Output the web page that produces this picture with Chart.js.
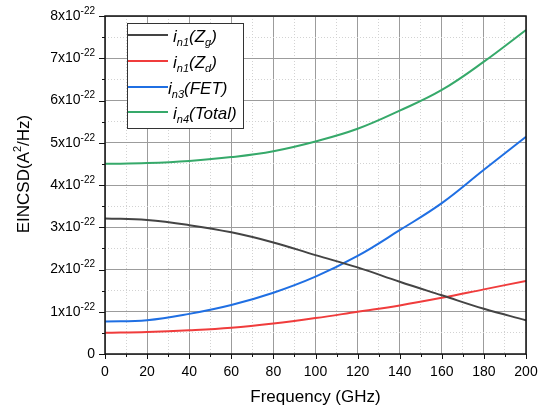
<!DOCTYPE html>
<html>
<head>
<meta charset="utf-8">
<script src="https://cdn.jsdelivr.net/npm/chart.js@4/dist/chart.umd.min.js"></script>
<style>
  body { margin: 0; background: #fff; }
</style>
</head>
<body>
<canvas id="myChart" width="549" height="406"></canvas>
<script>
// frequency in GHz, noise values in units of 1e-22 A^2/Hz
const freq = [0, 20, 40, 60, 80, 100, 120, 140, 160, 180, 200];
const inZg = [3.21, 3.17, 3.05, 2.88, 2.64, 2.34, 2.05, 1.71, 1.39, 1.07, 0.80];
const inZd = [0.50, 0.52, 0.56, 0.62, 0.72, 0.85, 1.00, 1.15, 1.33, 1.53, 1.73];
const inFET = [0.77, 0.80, 0.95, 1.16, 1.45, 1.83, 2.32, 2.93, 3.57, 4.36, 5.14];
const inTotal = [4.50, 4.52, 4.57, 4.66, 4.80, 5.03, 5.33, 5.76, 6.25, 6.92, 7.67];

const xTicks = [0, 20, 40, 60, 80, 100, 120, 140, 160, 180, 200];
const yTicks = [0, 1, 2, 3, 4, 5, 6, 7, 8];

// legend entries: [main, sub, rest, sub2, end]
const legendItems = [
  ['i', 'n1', '(Z', 'g', ')'],
  ['i', 'n1', '(Z', 'd', ')'],
  ['i', 'n3', '(FET)', '', ''],
  ['i', 'n4', '(Total)', '', '']
];
const colors = ['#444444', '#f03c3c', '#1f6fe3', '#36a96a'];

function pts(ys) {
  return freq.map((f, i) => ({ x: f, y: ys[i] }));
}

function ds(label, ys, color) {
  return {
    label: label,
    data: pts(ys),
    borderColor: color,
    backgroundColor: color,
    borderWidth: 2,
    pointRadius: 0,
    tension: 0.4
  };
}

const isMajorX = v => v % 20 === 0;
const isMajorY = v => Math.abs(v - Math.round(v)) < 1e-6;
const FONT = '"Liberation Sans", Arial, sans-serif';

const decor = {
  id: 'decor',
  afterDraw(chart) {
    const ctx = chart.ctx;
    const a = chart.chartArea;
    const xs = chart.scales.x, ys = chart.scales.y;
    ctx.save();

    // frame
    ctx.strokeStyle = '#111';
    ctx.lineWidth = 1.5;
    ctx.strokeRect(a.left, a.top, a.right - a.left, a.bottom - a.top);

    // tick marks
    ctx.lineWidth = 1;
    ctx.beginPath();
    for (let v = 0; v <= 200; v += 10) {
      const px = Math.round(xs.getPixelForValue(v)) + 0.5;
      ctx.moveTo(px, a.bottom);
      ctx.lineTo(px, a.bottom + (isMajorX(v) ? 5 : 3));
    }
    for (let v = 0; v <= 8; v += 0.5) {
      const py = Math.round(ys.getPixelForValue(v)) + 0.5;
      ctx.moveTo(a.left, py);
      ctx.lineTo(a.left - (isMajorY(v) ? 6 : 3), py);
    }
    ctx.stroke();

    // x tick labels
    ctx.fillStyle = '#000';
    ctx.font = '14px ' + FONT;
    ctx.textAlign = 'center';
    ctx.textBaseline = 'middle';
    xTicks.forEach(v => {
      ctx.fillText(String(v), xs.getPixelForValue(v), a.bottom + 18);
    });

    // y tick labels with superscript
    yTicks.forEach(v => {
      const py = ys.getPixelForValue(v);
      const right = a.left - 10;
      ctx.textBaseline = 'middle';
      ctx.textAlign = 'right';
      if (v === 0) {
        ctx.font = '14px ' + FONT;
        ctx.fillText('0', right, py);
        return;
      }
      ctx.font = '10px ' + FONT;
      const sup = '-22';
      const sw = ctx.measureText(sup).width;
      ctx.fillText(sup, right, py - 5);
      ctx.font = '14px ' + FONT;
      ctx.fillText(v + 'x10', right - sw, py);
    });

    // x title
    ctx.font = '17px ' + FONT;
    ctx.textAlign = 'center';
    ctx.fillText('Frequency (GHz)', (a.left + a.right) / 2, 397);

    // y title, rotated, with superscript 2
    ctx.save();
    ctx.translate(24, 174);
    ctx.rotate(-Math.PI / 2);
    const big = '17px ' + FONT;
    const small = '11px ' + FONT;
    ctx.font = big;
    const p1 = 'EINCSD(A', p3 = '/Hz)';
    const w1 = ctx.measureText(p1).width, w3 = ctx.measureText(p3).width;
    ctx.font = small;
    const w2 = ctx.measureText('2').width;
    let x0 = -(w1 + w2 + w3) / 2;
    ctx.textAlign = 'left';
    ctx.font = big;
    ctx.fillText(p1, x0, 0);
    ctx.font = small;
    ctx.fillText('2', x0 + w1, -6);
    ctx.font = big;
    ctx.fillText(p3, x0 + w1 + w2, 0);
    ctx.restore();

    // legend
    const bx = 127, by = 23, bw = 116, bh = 105;
    ctx.fillStyle = '#fff';
    ctx.fillRect(bx, by, bw, bh);
    ctx.strokeStyle = '#333';
    ctx.lineWidth = 1;
    ctx.strokeRect(bx + 0.5, by + 0.5, bw, bh);
    const rowsY = [35, 61, 87, 112];
    const textX = [173, 173, 168, 173];
    legendItems.forEach((it, i) => {
      const y = rowsY[i];
      ctx.strokeStyle = colors[i];
      ctx.lineWidth = 2;
      ctx.beginPath();
      ctx.moveTo(128, y);
      ctx.lineTo(168, y);
      ctx.stroke();
      ctx.fillStyle = '#000';
      ctx.textAlign = 'left';
      ctx.textBaseline = 'alphabetic';
      let x = textX[i];
      const base = y + 7;
      const fBig = 'italic 17px ' + FONT;
      const fSub = 'italic 11px ' + FONT;
      const parts = [[it[0], fBig, 0], [it[1], fSub, 4], [it[2], fBig, 0], [it[3], fSub, 4], [it[4], fBig, 0]];
      parts.forEach(p => {
        if (!p[0]) return;
        ctx.font = p[1];
        ctx.fillText(p[0], x, base + p[2]);
        x += ctx.measureText(p[0]).width;
      });
    });

    ctx.restore();
  }
};

const config = {
  type: 'line',
  data: {
    datasets: [
      ds('in1(Zg)', inZg, colors[0]),
      ds('in1(Zd)', inZd, colors[1]),
      ds('in3(FET)', inFET, colors[2]),
      ds('in4(Total)', inTotal, colors[3])
    ]
  },
  options: {
    responsive: false,
    animation: false,
    layout: { padding: { left: 105, right: 23, top: 16, bottom: 52 } },
    plugins: { legend: { display: false }, tooltip: { enabled: false } },
    scales: {
      x: {
        type: 'linear', min: 0, max: 200,
        ticks: { display: false, stepSize: 10 },
        grid: {
          drawTicks: false,
          lineWidth: 1,
          color: c => (c.tick && isMajorX(c.tick.value)) ? '#9c9c9c' : '#d2d2d2'
        },
        border: {
          display: false,
          dash: c => (c.tick && !isMajorX(c.tick.value)) ? [1, 2] : []
        }
      },
      y: {
        type: 'linear', min: 0, max: 8,
        ticks: { display: false, stepSize: 0.5 },
        grid: {
          drawTicks: false,
          lineWidth: 1,
          color: c => (c.tick && isMajorY(c.tick.value)) ? '#9c9c9c' : '#d2d2d2'
        },
        border: {
          display: false,
          dash: c => (c.tick && !isMajorY(c.tick.value)) ? [1, 2] : []
        }
      }
    }
  },
  plugins: [decor]
};

const myChart = new Chart(document.getElementById('myChart'), config);
</script>
</body>
</html>
